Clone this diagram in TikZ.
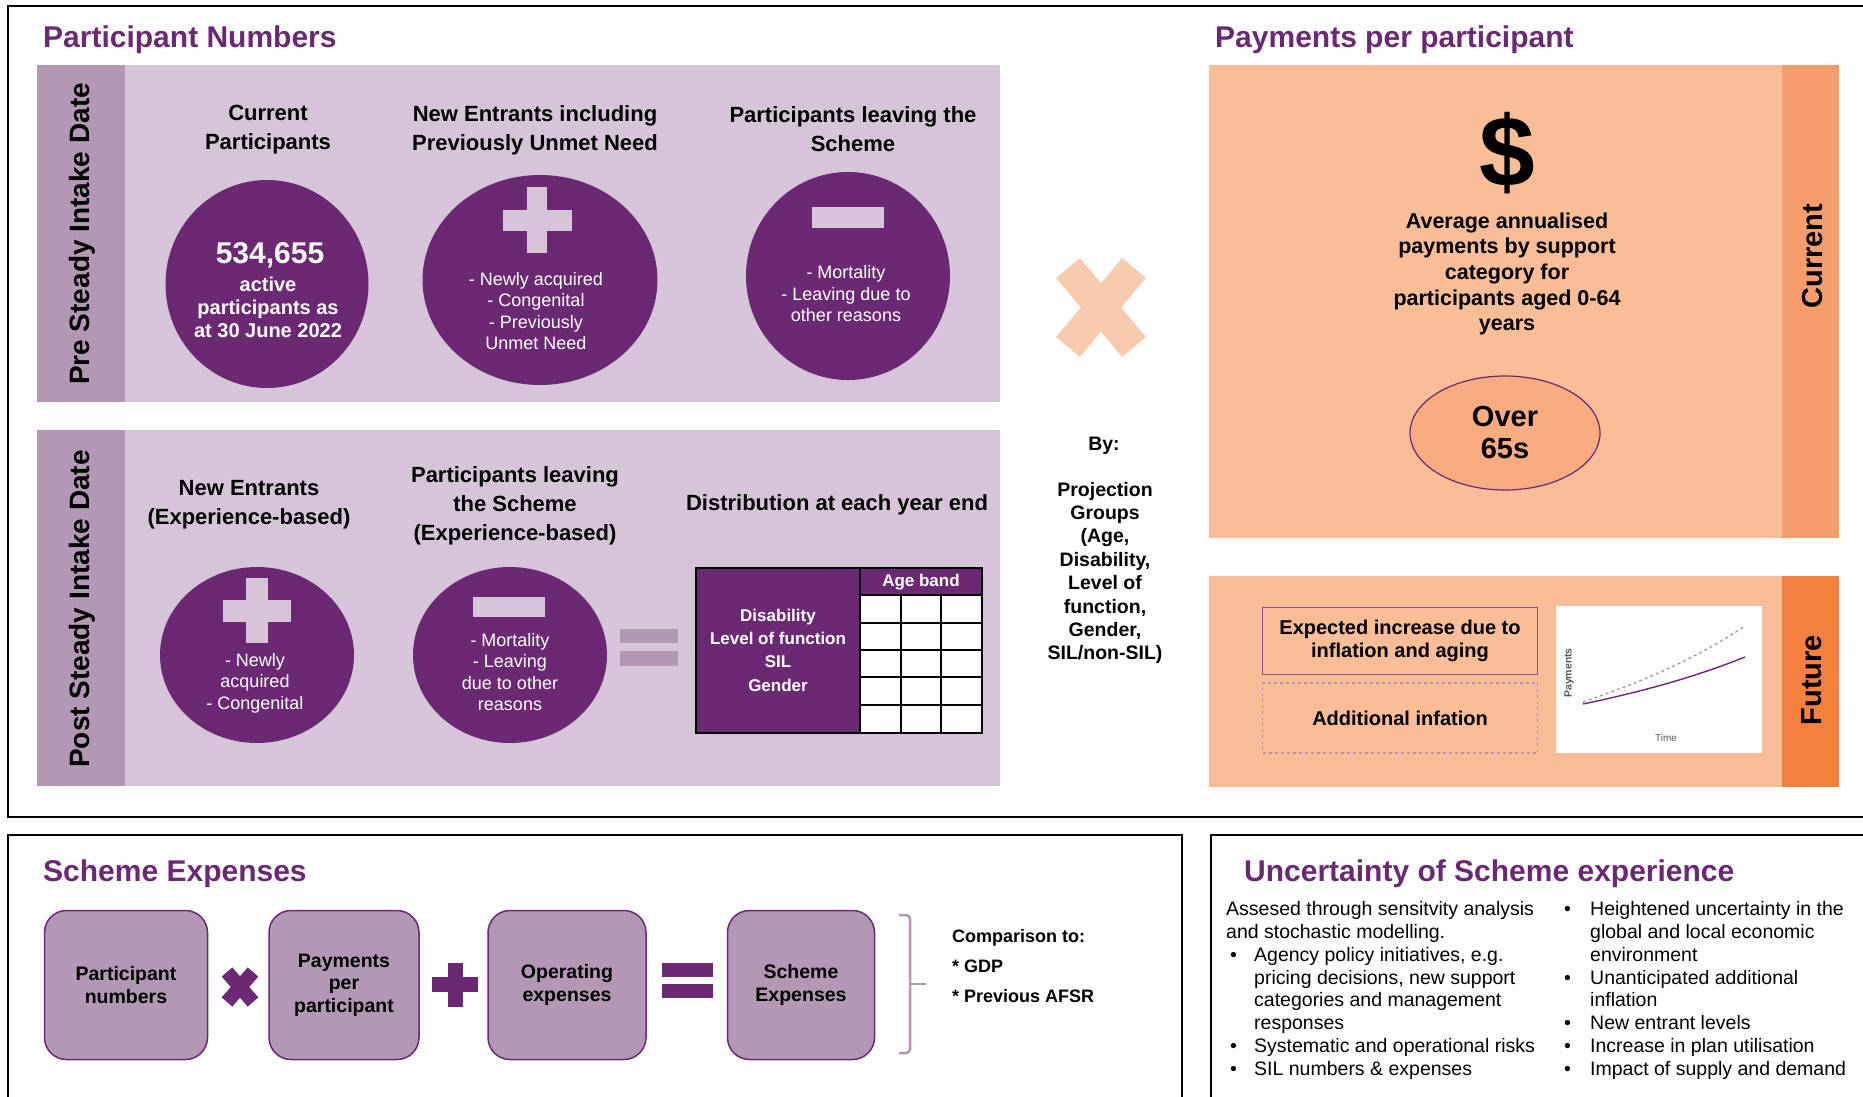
\documentclass[tikz,border=0pt]{standalone}
\usepackage{fontspec}
\setmainfont{Liberation Sans}
\usepackage{xcolor}
\usepackage{tikz}
\usetikzlibrary{shapes.geometric}

\definecolor{purp}{RGB}{107,41,116}
\definecolor{lilac}{RGB}{214,197,217}
\definecolor{lilacdark}{RGB}{179,152,182}
\definecolor{peach}{RGB}{249,189,152}
\definecolor{peachdark}{RGB}{247,156,108}
\definecolor{orangedark}{RGB}{244,128,63}
\definecolor{peachlight}{RGB}{249,203,174}
\definecolor{peachmid}{RGB}{248,172,128}

\newcommand{\fsz}[2]{\fontsize{#1}{#2}\selectfont}
\newcommand{\leftbul}{\makebox[28pt][l]{\hspace*{4pt}\textbullet}}
\newcommand{\leftind}{\hspace*{28pt}}
\newcommand{\rightbul}{\makebox[26pt][l]{\textbullet}}
\newcommand{\rightind}{\hspace*{26pt}}

\tikzset{
    secttitle/.style = {anchor=west, inner sep=0pt, text=purp, font=\fsz{30}{34}\bfseries},
    sidelabel/.style = {rotate=90, inner sep=0pt, font=\fsz{28}{32}\bfseries},
    colhead/.style = {align=center, inner sep=0pt, font=\fsz{22}{29}\bfseries},
    blob/.style = {ellipse, fill=purp, inner sep=0pt},
    blobtext/.style = {align=center, inner sep=0pt, text=white, font=\fsz{18}{21.5}},
    tabtext/.style = {align=center, inner sep=0pt, text=white, font=\fsz{17}{23.3}\bfseries},
    bytext/.style = {align=center, inner sep=0pt, font=\fsz{19.5}{23.4}\bfseries},
    paytext/.style = {align=center, inner sep=0pt, font=\fsz{21.5}{25.7}\bfseries},
    futbox/.style = {rectangle, minimum width=275, minimum height=67, align=center, font=\fsz{20}{23}\bfseries},
    sumbox/.style = {rectangle, rounded corners=22, draw=purp, line width=1.5, fill=lilacdark, minimum height=149, align=center, font=\fsz{19.5}{22.5}\bfseries},
    bodytext/.style = {anchor=north west, align=left, inner sep=0pt, font=\fsz{19.5}{22.9}},
    frame/.style = {line width=2.5}
}

\begin{document}
\begin{tikzpicture}[x=1pt, y=-1pt]
\useasboundingbox (0,0) rectangle (1863,1097);
\fill[white] (0,0) rectangle (1863,1097);

\draw[frame] (8,6) rectangle (1875,817);
\draw[frame] (8,1110) |- (1182,835) -- (1182,1110);
\draw[frame] (1211,1110) |- (1875,835);

% participant numbers
\node[secttitle] (pntitle) at (43,40) {Participant Numbers};
\fill[lilac] (125,65) rectangle (1000,402);
\fill[lilacdark] (37,65) rectangle (125,402);
\node[sidelabel] (pre) at (82,234) {Pre Steady Intake Date};

\node[colhead] (curhead) at (268,130) {Current\\Participants};
\node[colhead] (newhead) at (535,130) {New Entrants including\\Previously Unmet Need};
\node[colhead] (leavehead) at (853,129) {Participants leaving the\\Scheme};

\node[blob, minimum width=203, minimum height=208] (cur) at (267,284) {};
\node[blobtext, font=\fsz{30}{34}\bfseries] (curnum) at (270,255) {534,655};
\node[blobtext, font=\fsz{20}{23}\bfseries] (curtext) at (268,307) {active\\participants as\\at 30 June 2022};

\node[blob, minimum width=235, minimum height=210] (newent) at (540,280) {};
\fill[lilac] (527,187) rectangle (547,253);
\fill[lilac] (503,210) rectangle (572,231);
\node[blobtext] (newtext) at (536,311) {- Newly acquired\\- Congenital\\- Previously\\Unmet Need};

\node[blob, minimum width=204, minimum height=208] (leave) at (848,276) {};
\fill[lilac] (812,207) rectangle (884,228);
\node[blobtext] (leavetext) at (846,294) {- Mortality\\- Leaving due to\\other reasons};

\fill[lilac] (125,430) rectangle (1000,786);
\fill[lilacdark] (37,430) rectangle (125,786);
\node[sidelabel] (post) at (82,609) {Post Steady Intake Date};

\node[colhead] (nexphead) at (249,505) {New Entrants\\(Experience-based)};
\node[colhead] (lexphead) at (515,506) {Participants leaving\\the Scheme\\(Experience-based)};
\node[colhead] (disthead) at (837,505) {Distribution at each year end};

\node[blob, minimum width=194, minimum height=176] (newexp) at (257,655) {};
\fill[lilac] (246,578) rectangle (268,643);
\fill[lilac] (223,600) rectangle (291,622);
\node[blobtext] (nexptext) at (255,683) {- Newly\\acquired\\- Congenital};

\node[blob, minimum width=194, minimum height=176] (leaveexp) at (510,655) {};
\fill[lilac] (473,597) rectangle (545,617);
\node[blobtext] (lexptext) at (510,672) {- Mortality\\- Leaving\\due to other\\reasons};

\fill[lilacdark] (620,629) rectangle (678,643);
\fill[lilacdark] (620,651) rectangle (678,666);

\fill[purp] (696,568) rectangle (982,595);
\fill[purp] (696,568) rectangle (860,733);
\fill[white] (860,595) rectangle (982,733);
\foreach \x in {901,941} \draw[line width=2] (\x,595) -- (\x,733);
\foreach \y in {595,623,650,677,705} \draw[line width=2] (860,\y) -- (982,\y);
\draw[line width=2] (860,568) -- (860,733);
\draw[line width=2] (696,568) rectangle (982,733);
\node[tabtext] (ageband) at (921,582) {Age band};
\node[tabtext] (tabrows) at (778,650) {Disability\\Level of function\\SIL\\Gender};

% by
\draw[peachlight, line width=31] (1068,268) -- (1134,347);
\draw[peachlight, line width=31] (1134,268) -- (1068,347);
\node[bytext] (by) at (1104,446) {By:};
\node[bytext] (groups) at (1105,573) {Projection\\Groups\\(Age,\\Disability,\\Level of\\function,\\Gender,\\SIL/non-SIL)};

% payments per participant
\node[secttitle] (pptitle) at (1215,40) {Payments per participant};
\fill[peach] (1209,65) rectangle (1782,538);
\fill[peachdark] (1782,65) rectangle (1839,538);
\node[sidelabel, font=\fsz{29}{32}\bfseries] (current) at (1812,256) {Current};
\node[inner sep=0pt, font=\fsz{100}{100}\bfseries] (dollar) at (1507,153) {\$};
\node[paytext] (avgpay) at (1507,274) {Average annualised\\payments by support\\category for\\participants aged 0-64\\years};
\node[ellipse, draw=purp, line width=1.2, fill=peachmid, minimum width=190, minimum height=114, align=center, font=\fsz{29}{32}\bfseries] (over) at (1505,433) {Over\\65s};

\fill[peach] (1209,576) rectangle (1782,787);
\fill[orangedark] (1782,576) rectangle (1839,787);
\node[sidelabel, font=\fsz{29}{32}\bfseries] (future) at (1812,680) {Future};
\node[futbox, draw=purp!80, line width=1.5] (expinc) at (1400,641) {Expected increase due to\\inflation and aging};
\node[futbox, draw=lilacdark, dashed, line width=1.2, minimum height=70] (addinf) at (1400,718) {Additional infation};
\fill[white] (1556,606) rectangle (1762,753);
\draw[lilacdark, dashed, line width=1.4] (1583,702) .. controls (1650,679) and (1700,656) .. (1745,626);
\draw[purp, line width=1.4] (1583,704) .. controls (1650,690) and (1700,675) .. (1745,657);
\node[rotate=90, inner sep=0pt, text=black!65, font=\fsz{10.5}{12}\bfseries] (yaxis) at (1569,673) {Payments};
\node[inner sep=0pt, text=black!65, font=\fsz{10}{12}] (xaxis) at (1666,738) {Time};

% scheme expenses
\node[secttitle] (setitle) at (43,874) {Scheme Expenses};
\node[sumbox, minimum width=163] (pnum) at (126,985) {Participant\\numbers};
\node[sumbox, minimum width=150] (ppay) at (344,985) {Payments\\per\\participant};
\node[sumbox, minimum width=158] (opex) at (567,985) {Operating\\expenses};
\node[sumbox, minimum width=147] (sexp) at (801,985) {Scheme\\Expenses};
\draw[purp, line width=14] (227,972) -- (253,1002);
\draw[purp, line width=14] (253,972) -- (227,1002);
\fill[purp] (448,963) rectangle (463,1007);
\fill[purp] (432,977) rectangle (478,992);
\fill[purp] (662,963) rectangle (713,977);
\fill[purp] (662,984) rectangle (713,998);
\draw[lilacdark, line width=2.5, rounded corners=4] (899,915) -- (910,915) -- (910,1053) -- (899,1053);
\draw[lilacdark, line width=2.5] (910,984) -- (926,984);
\node[anchor=west, align=left, inner sep=0pt, font=\fsz{18}{30}\bfseries] (compare) at (952,966) {Comparison to:\\* GDP\\* Previous AFSR};

% uncertainty
\node[secttitle] (untitle) at (1244,874) {Uncertainty of Scheme experience};
\node[bodytext] (unleft) at (1226,901) {Assesed through sensitvity analysis\\and stochastic modelling.\\\leftbul Agency policy initiatives, e.g.\\\leftind pricing decisions, new support\\\leftind categories and management\\\leftind responses\\\leftbul Systematic and operational risks\\\leftbul SIL numbers \& expenses};
\node[bodytext] (unright) at (1564,901) {\rightbul Heightened uncertainty in the\\\rightind global and local economic\\\rightind environment\\\rightbul Unanticipated additional\\\rightind inflation\\\rightbul New entrant levels\\\rightbul Increase in plan utilisation\\\rightbul Impact of supply and demand};
\end{tikzpicture}
\end{document}
